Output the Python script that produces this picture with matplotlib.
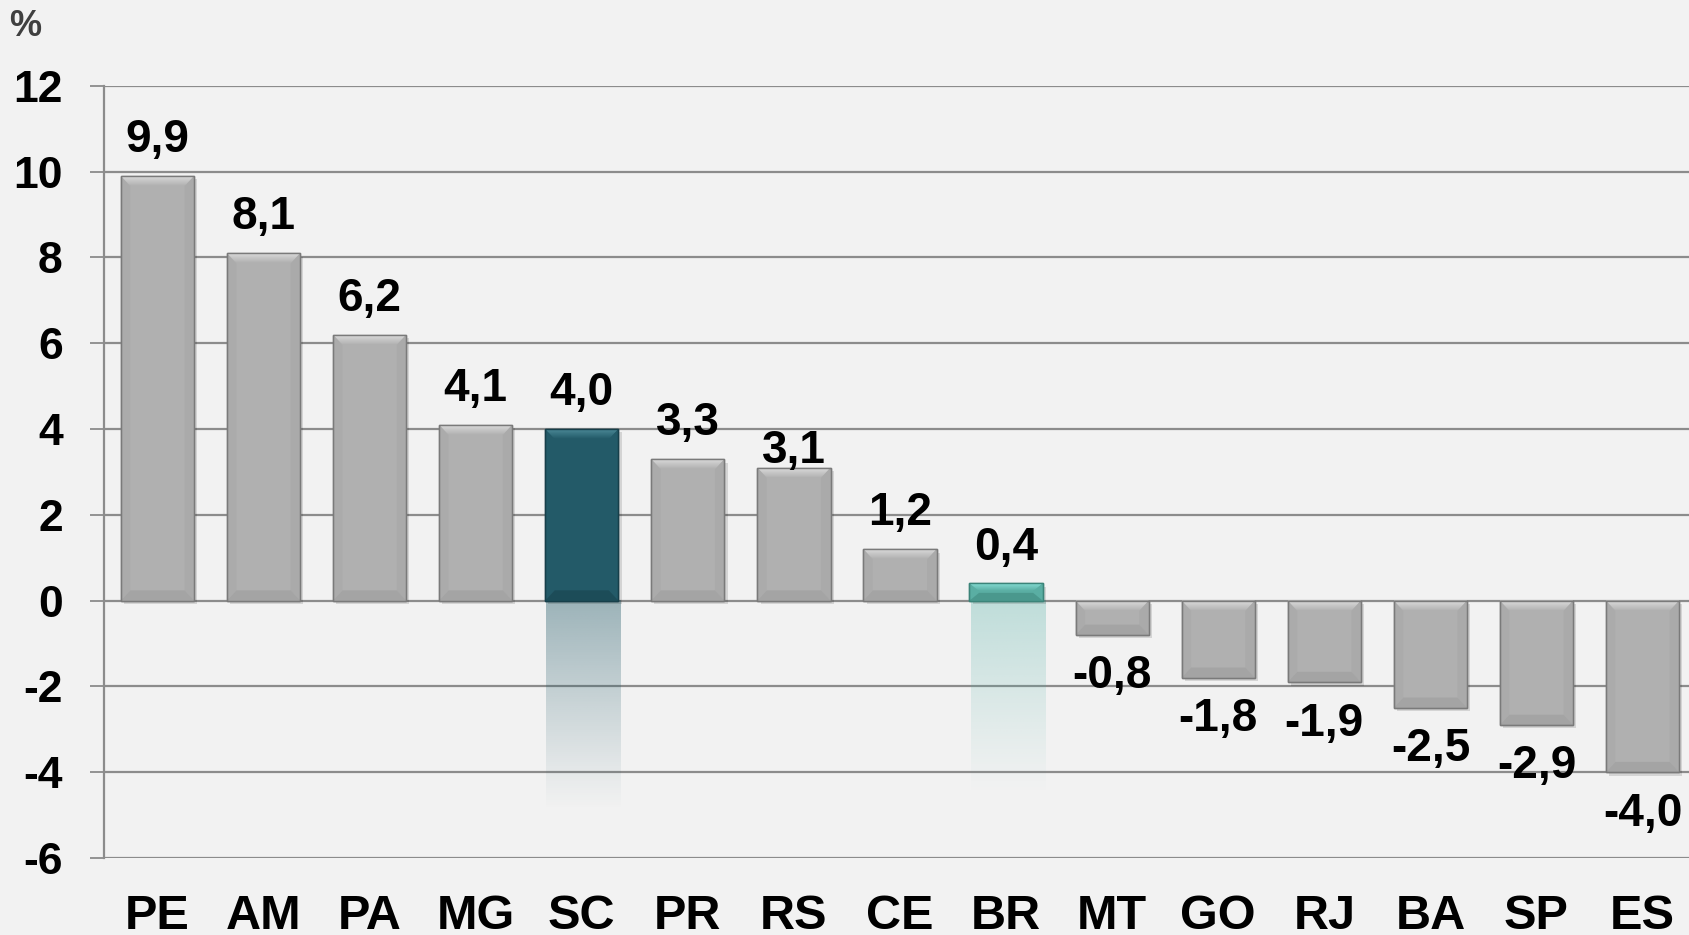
import numpy as np
import matplotlib.pyplot as plt
from matplotlib.patches import Polygon, Rectangle

# Data (%)
states = ["PE", "AM", "PA", "MG", "SC", "PR", "RS", "CE", "BR", "MT", "GO", "RJ", "BA", "SP", "ES"]
values = [9.9, 8.1, 6.2, 4.1, 4.0, 3.3, 3.1, 1.2, 0.4, -0.8, -1.8, -1.9, -2.5, -2.9, -4.0]
yticks = [-6, -4, -2, 0, 2, 4, 6, 8, 10, 12]

bg = "#f2f2f2"
gray = "#b0b0b0"
# highlighted bars: (main, top bevel, edge, reflection base, reflection depth)
highlight = {
    "SC": ("#235a68", "#4f8e9c", "#173f4a", "#235a68", -4.9),
    "BR": ("#5aaea3", "#86ddd4", "#3b8479", "#4fb0a5", -4.5),
}
label_nudge = {"RS": -14}  # this label sits lower in the original

narrow = ["Liberation Sans Narrow", "Liberation Sans", "DejaVu Sans"]
wide = ["Liberation Sans", "DejaVu Sans"]

fig = plt.figure(figsize=(16.9, 9.35), dpi=100, facecolor=bg)
ax = fig.add_axes([0.0618, 0.0824, 0.9415, 0.8257], facecolor=bg)

x = np.arange(len(states))
colors = [highlight[s][0] if s in highlight else gray for s in states]
edges = [highlight[s][2] if s in highlight else "#7a7a7a" for s in states]
bars = ax.bar(x, values, width=0.69, color=colors, edgecolor=edges, linewidth=1.0, zorder=3)

# bevel + shadow effect
bx, by = 0.09, 0.24
for s, p in zip(states, bars):
    x0, w = p.get_x(), p.get_width()
    x1 = x0 + w
    lo, hi = sorted([p.get_y(), p.get_y() + p.get_height()])
    h = hi - lo
    byy = min(by, h / 2.2)
    ax.add_patch(Rectangle((x0 + 0.03, lo - 0.08), w, h, color="black", alpha=0.12,
                           zorder=2, lw=0))
    if s in highlight:
        top_c = highlight[s][1]
        side_c = highlight[s][0]
        bot_c = highlight[s][2]
    else:
        top_c, side_c, bot_c = "#dedede", "#a8a8a8", "#999999"
    # top bevel with a light-to-base gradient
    top_poly = Polygon([(x0, hi), (x1, hi), (x1 - bx, hi - byy), (x0 + bx, hi - byy)],
                       closed=True, facecolor="none", lw=0, zorder=4)
    ax.add_patch(top_poly)
    c0 = np.array(plt.matplotlib.colors.to_rgb(top_c))
    c1 = np.array(plt.matplotlib.colors.to_rgb(p.get_facecolor()[:3]))
    g = np.linspace(0, 1, 40)[:, None]
    grad = (c0 * (1 - g) + c1 * g)[:, None, :]
    im = ax.imshow(grad, extent=(x0, x1, hi - byy, hi), origin="upper", aspect="auto",
                   zorder=4, interpolation="bilinear")
    im.set_clip_path(top_poly)
    ax.add_patch(Polygon([(x0, hi), (x0 + bx, hi - byy), (x0 + bx, lo + byy), (x0, lo)],
                         closed=True, color=side_c, lw=0, zorder=4, alpha=0.5))
    ax.add_patch(Polygon([(x1, hi), (x1 - bx, hi - byy), (x1 - bx, lo + byy), (x1, lo)],
                         closed=True, color=side_c, lw=0, zorder=4, alpha=0.7))
    ax.add_patch(Polygon([(x0, lo), (x1, lo), (x1 - bx, lo + byy), (x0 + bx, lo + byy)],
                         closed=True, color=bot_c, lw=0, zorder=4, alpha=0.5))
    ax.add_patch(Rectangle((x0, lo), w, h, fill=False, edgecolor=p.get_edgecolor(),
                           lw=1.0, zorder=5))

    # fading reflection under highlighted bars
    if s in highlight:
        base, depth = highlight[s][3], highlight[s][4]
        rgb = np.array(plt.matplotlib.colors.to_rgb(base))
        n = 200
        ref = np.zeros((n, 1, 4))
        ref[:, 0, :3] = rgb
        ref[:, 0, 3] = np.linspace(0.45 if s == "SC" else 0.35, 0.0, n) ** 1.1
        ax.imshow(ref, extent=(x0 + 0.01, x1 + 0.02, depth, 0), origin="upper",
                  aspect="auto", zorder=1.5, interpolation="bilinear")

# value labels
for s, xi, v in zip(states, x, values):
    txt = f"{v:.1f}".replace(".", ",")
    if v >= 0:
        dy, va = 10 + label_nudge.get(s, 0), "bottom"
    else:
        dy, va = -14, "top"
    ax.annotate(txt, (xi, v), xytext=(0, dy), textcoords="offset points",
                ha="center", va=va, fontsize=33, fontweight="bold",
                family=narrow, color="black", zorder=6)

ax.set_xlim(-0.5, len(states) - 0.5)
ax.set_ylim(-6, 12)
ax.set_yticks(yticks)
ax.set_yticklabels([str(t) for t in yticks], fontsize=32, fontweight="bold", family=narrow)
ax.set_xticks(x)
ax.set_xticklabels(states, fontsize=35, fontweight="bold", family=wide)
ax.yaxis.grid(True, color="#8c8c8c", linewidth=1.6, zorder=0)
ax.set_axisbelow(True)
ax.tick_params(axis="y", length=10, width=1.3, color="#8c8c8c", pad=20)
ax.tick_params(axis="x", length=0, pad=26)
for side in ["top", "right", "bottom"]:
    ax.spines[side].set_visible(False)
ax.spines["left"].set_color("#8c8c8c")
ax.spines["left"].set_linewidth(1.6)

fig.text(0.015, 0.99, "%", fontsize=26, fontweight="bold", family=narrow,
         color="#404040", ha="center", va="top")

fig.savefig("out.png", dpi=100, facecolor=bg)
